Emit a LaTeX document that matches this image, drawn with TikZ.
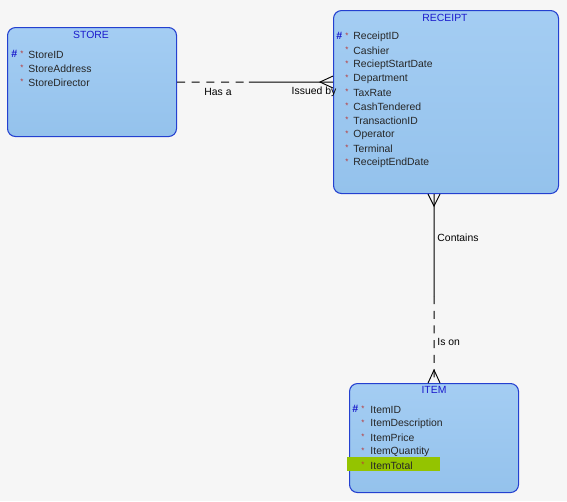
\documentclass[tikz,border=0pt]{standalone}
\usepackage{fontspec}
\setmainfont{Liberation Sans}
\usepackage{tikz}
\usetikzlibrary{calc}
\definecolor{boxblue}{HTML}{A4CDF3}
\definecolor{boxblueDark}{HTML}{94C2EC}
\definecolor{edgeblue}{HTML}{2440D0}
\definecolor{titleblue}{HTML}{1A1ACC}
\definecolor{starred}{HTML}{B83A3A}
\definecolor{hilite}{HTML}{94C400}
\definecolor{bggray}{HTML}{F6F6F6}
\tikzstyle{entity}=[draw=edgeblue, line width=0.8pt, rounded corners=6pt, top color=boxblue, bottom color=boxblueDark, inner sep=0pt, anchor=north west]
\tikzstyle{title}=[text=titleblue, inner sep=0pt, font=\fontsize{7.8}{9}\selectfont]
\tikzstyle{attr}=[anchor=west, inner sep=0pt, text=black!85, font=\fontsize{7.8}{9}\selectfont]
\tikzstyle{key}=[anchor=west, inner sep=0pt, text=titleblue, font=\fontsize{8}{9}\selectfont\bfseries]
\tikzstyle{star}=[anchor=west, inner sep=0pt, text=starred, font=\fontsize{6}{7}\selectfont]
\tikzstyle{rel}=[inner sep=0pt, font=\fontsize{7.8}{9}\selectfont]
\tikzstyle{optional}=[dash pattern=on 6 off 5]

\begin{document}
\begin{tikzpicture}[x=0.75pt, y=-0.75pt, line width=0.7pt]

    %background
    \fill[bggray] (0,0) rectangle (567,501);
    \useasboundingbox (0,0) rectangle (567,501);

    %store
    \node (store) at (7,27) [entity, minimum width=126.75pt, minimum height=81.75pt] {};
    \node (storeT) at (91,35) [title] {STORE};
    \node (storeK) at (11,54) [key] {\#};
    \foreach \n [count=\i] in {StoreID,StoreAddress,StoreDirector} {
    \node (storeS\i) at (20,40+14*\i) [star] {*};
    \node (storeA\i) at (28,40.5+14*\i) [attr] {\n};
    }

    %receipt
    \node (receipt) at (333,10) [entity, minimum width=168.75pt, minimum height=137.25pt] {};
    \node (receiptT) at (445,18) [title] {RECEIPT};
    \node (receiptK) at (336,36) [key] {\#};
    \foreach \n [count=\i] in {ReceiptID,Cashier,RecieptStartDate,Department,TaxRate,CashTendered,TransactionID,Operator,Terminal,ReceiptEndDate} {
    \node (receiptS\i) at (345,22+14*\i) [star] {*};
    \node (receiptA\i) at (353,22.5+14*\i) [attr] {\n};
    }

    %item
    \node (item) at (349,383) [entity, minimum width=126.75pt, minimum height=81.75pt] {};
    \fill[hilite] (347,457) rectangle (440,471);
    \node (itemT) at (434,390) [title] {ITEM};
    \node (itemK) at (352,409) [key] {\#};
    \foreach \n [count=\i] in {ItemID,ItemDescription,ItemPrice,ItemQuantity,ItemTotal} {
    \node (itemS\i) at (361,395+14*\i) [star] {*};
    \node (itemA\i) at (370,395.5+14*\i) [attr] {\n};
    }

    %store - receipt
    \coordinate (rcptIn) at (receipt.west |- store.east);
    \coordinate (hasA) at ($(store.east)!0.46!(rcptIn)$);
    \draw[optional] (store.east) -- (hasA);
    \draw (hasA) -- (rcptIn);
    \draw (rcptIn) ++(0,-6) -- ++(-13,6) -- ++(13,6);
    \node (hasAL) at (218,92) [rel] {Has a};
    \node (issuedL) at (314,92) [rel] {Issued by};

    %receipt - item
    \coordinate (rcptOut) at (receipt.south -| item.north);
    \coordinate (contains) at ($(rcptOut)!0.54!(item.north)$);
    \draw (rcptOut) -- (contains);
    \draw[optional] (contains) -- (item.north);
    \draw (rcptOut) ++(-6,0) -- ++(6,12) -- ++(6,-12);
    \draw (item.north) ++(-6,0) -- ++(6,-13) -- ++(6,13);
    \node (containsL) at (437,238) [rel, anchor=west] {Contains};
    \node (isOnL) at (437,342) [rel, anchor=west] {Is on};

\end{tikzpicture}
\end{document}
